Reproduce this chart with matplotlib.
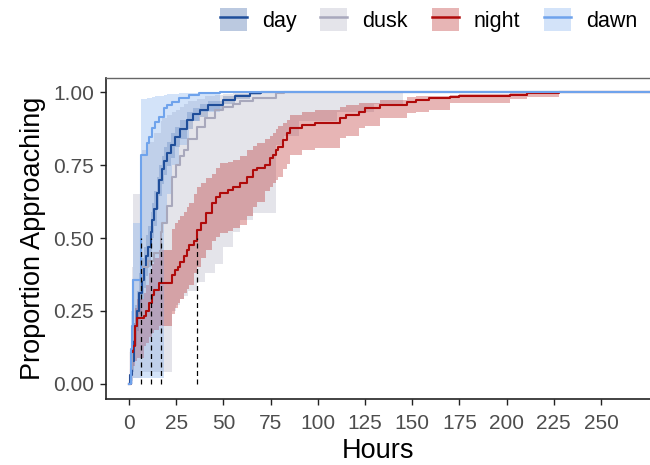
import numpy as np
import matplotlib
matplotlib.use("Agg")
import matplotlib.pyplot as plt
from matplotlib.patches import Patch
from matplotlib.lines import Line2D
from matplotlib.legend_handler import HandlerTuple

plt.rcParams['font.family'] = ['Liberation Sans', 'DejaVu Sans']

# ---- data: cumulative proportion approaching (step curves with 95% CI) ----
groups = ["day", "dusk", "night", "dawn"]
line_colors = {"day": "#1F4E9A", "dusk": "#A8A8BC", "night": "#B00A0A", "dawn": "#6FA3EC"}

day_t = [0, 0.7, 1.5, 2.5, 3.3, 4.2, 5.5, 6.9, 8.0, 9.2, 10.3, 11.5, 12.4, 13.3, 14.7,
         16.0, 17.3, 18.6, 20.0, 22.0, 24.4, 27.0, 30.5, 34.0, 37.6, 42.0, 49.8, 56.0, 64.0, 70.0]
day_p = [0, .03, .08, .15, .20, .25, .31, .356, .40, .44, .47, .52, .56, .60, .655,
         .70, .735, .765, .79, .82, .847, .875, .905, .925, .94, .955, .973, .985, .995, 1.0]
day_hi = [0, .07, .13, .21, .27, .32, .38, .43, .47, .51, .54, .59, .62, .66, .71,
          .75, .78, .81, .83, .86, .88, .905, .93, .945, .96, .97, .985, .993, .999, 1.0]
day_lo = [0, 0, .04, .09, .13, .18, .24, .29, .33, .37, .40, .45, .50, .54, .60,
          .645, .685, .715, .745, .775, .81, .84, .875, .90, .915, .935, .958, .975, .99, 1.0]

dusk_t = [0, 0.8, 1.5, 2.3, 7.0, 10.0, 13.0, 16.8, 17.5, 20.0, 22.6, 25.0, 27.0, 29.0,
          31.3, 35.8, 40.0, 45.6, 50.0, 55.0, 58.8, 65.7, 78.0, 82.0, 90.0, 110.0, 130.0, 145.0]
dusk_p = [0, .05, .15, .356, .40, .42, .45, .52, .55, .61, .71, .75, .78, .80,
          .84, .88, .91, .94, .95, .96, .97, .98, .995, 1.0, 1.0, 1.0, 1.0, 1.0]
dusk_hi = [0, .15, .40, .65, .80, .83, .86, .90, .91, .92, .93, .94, .95, .96,
           .97, .975, .985, .99, .992, .995, .997, .998, 1.0, 1.0, 1.0, 1.0, 1.0, 1.0]
dusk_lo = [0, 0, .01, .02, .04, .04, .04, .04, .04, .04, .25, .27, .29, .30,
           .32, .35, .38, .41, .47, .52, .56, .585, .82, .85, .90, .93, .96, 1.0]

night_t = [0, 1.0, 2.0, 3.4, 4.0, 7.8, 9.0, 10.4, 12.2, 13.5, 15.7, 22.8, 24.5, 26.0,
           27.2, 29.0, 30.5, 31.6, 34.3, 35.8, 38.0, 41.0, 43.8, 46.0, 48.0, 52.6, 55.2,
           58.8, 62.3, 65.8, 67.6, 72.0, 74.7, 76.4, 78.0, 79.0, 81.7, 83.5, 85.3, 91.5,
           98.5, 111.8, 115.0, 122.0, 125.0, 133.0, 147.0, 152.0, 159.0, 170.0, 175.0,
           202.0, 210.6, 228.0, 233.6]
night_p = [0, .11, .13, .20, .226, .234, .25, .277, .305, .322, .345, .373, .39, .40,
           .418, .44, .46, .476, .49, .527, .55, .585, .62, .64, .653, .665, .676,
           .687, .71, .733, .74, .75, .773, .785, .80, .813, .836, .858, .876, .887,
           .893, .91, .921, .932, .944, .955, .967, .972, .978, .984, .987,
           .99, .995, 1.0, 1.0]
night_hi = [0, .17, .21, .26, .29, .31, .34, .38, .41, .43, .46, .53, .55, .56,
            .575, .59, .605, .62, .65, .676, .69, .705, .72, .74, .756, .762, .767,
            .78, .80, .815, .825, .84, .85, .86, .875, .885, .895, .904, .921, .93,
            .938, .95, .955, .961, .963, .973, .984, .986, .988, .99, .992,
            .995, .998, 1.0, 1.0]
night_lo = [0, .04, .06, .08, .09, .13, .14, .16, .175, .185, .20, .24, .26, .276,
            .29, .31, .325, .339, .38, .40, .43, .46, .49, .505, .516, .525, .535,
            .545, .575, .605, .625, .66, .675, .69, .70, .71, .735, .755, .784, .80,
            .807, .841, .85, .876, .885, .91, .927, .932, .94, .961, .963,
            .975, .984, .995, 1.0]

dawn_t = [0, 0.8, 1.2, 1.6, 2.0, 2.3, 6.1, 9.5, 10.4, 12.2, 13.9, 15.7, 18.4, 20.1,
          22.8, 26.3, 31.6, 37.0, 48.0]
dawn_p = [0, .05, .12, .20, .28, .356, .784, .825, .846, .876, .898, .915, .944, .955,
          .967, .978, .990, .995, 1.0]
dawn_hi = [0, .15, .25, .35, .45, .55, .975, .978, .98, .983, .985, .987, .99, .992,
           .994, .996, .998, .999, 1.0]
dawn_lo = [0, 0, 0, 0, .01, .02, .02, .02, .02, .02, .02, .02, .55, .65,
           .75, .82, .90, .93, 1.0]

follow_up_end = 300.0
x_ticks = [0, 25, 50, 75, 100, 125, 150, 175, 200, 225, 250]
y_ticks = [0.0, 0.25, 0.5, 0.75, 1.0]

curves = {
    "day": (day_t, day_p, day_lo, day_hi),
    "dusk": (dusk_t, dusk_p, dusk_lo, dusk_hi),
    "night": (night_t, night_p, night_lo, night_hi),
    "dawn": (dawn_t, dawn_p, dawn_lo, dawn_hi),
}

# ---- figure ----
W, H = 650, 465
fig = plt.figure(figsize=(W / 100, H / 100), dpi=100)
ax = fig.add_axes([106 / W, (H - 399) / H, (W - 106) / W, (399 - 78) / H])

fill_alpha = 0.3

def extend(seq, last):
    return np.append(np.asarray(seq, float), last)

for g in groups:
    t, p, lo, hi = curves[g]
    tt = extend(t, follow_up_end)
    ax.fill_between(tt, extend(lo, lo[-1]), extend(hi, hi[-1]), step="post",
                    color=line_colors[g], alpha=fill_alpha, linewidth=0, zorder=1)

for g in groups:
    t, p, lo, hi = curves[g]
    ax.step(extend(t, follow_up_end), extend(p, p[-1]), where="post",
            color=line_colors[g], lw=1.5, zorder=3)

# median time lines
for g in groups:
    t, p, lo, hi = curves[g]
    med = next(tv for tv, pv in zip(t, p) if pv >= 0.5)
    ax.plot([med, med], [0, 0.5], color="black", lw=0.9,
            linestyle=(0, (4, 2.8)), zorder=4)

ax.set_xlim(-12.18, 275.95)
ax.set_ylim(-0.0514, 1.048)
ax.set_xticks(x_ticks)
ax.set_yticks(y_ticks)
ax.set_yticklabels([f"{v:.2f}" for v in y_ticks])

tick_col = "#4D4D4D"
ax.tick_params(axis="both", direction="out", length=4.5, width=1.0, color="#222222",
               labelsize=15, labelcolor=tick_col)
ax.tick_params(axis="x", pad=6)
ax.tick_params(axis="y", pad=4)
for side in ("left", "bottom"):
    ax.spines[side].set_color("#222222")
    ax.spines[side].set_linewidth(1.2)
ax.spines["top"].set_color("#666666")
ax.spines["top"].set_linewidth(1.0)
ax.spines["right"].set_visible(False)

ax.set_xlabel("Hours", fontsize=19.5, color="black", labelpad=4)
ax.set_ylabel("Proportion Approaching", fontsize=19.5, color="black", labelpad=5)

handles = [(Patch(facecolor=line_colors[g], alpha=fill_alpha, edgecolor="none"),
            Line2D([], [], color=line_colors[g], lw=1.8)) for g in groups]
fig.legend(handles, groups, handler_map={tuple: HandlerTuple(ndivide=1, pad=0)},
           loc="upper right", bbox_to_anchor=(637 / W, 1 - 8 / H), ncol=4,
           frameon=False, fontsize=15.5, handlelength=1.25, handleheight=1.3,
           handletextpad=0.7, columnspacing=1.1, borderaxespad=0, borderpad=0)

fig.savefig("out.png", dpi=100)
